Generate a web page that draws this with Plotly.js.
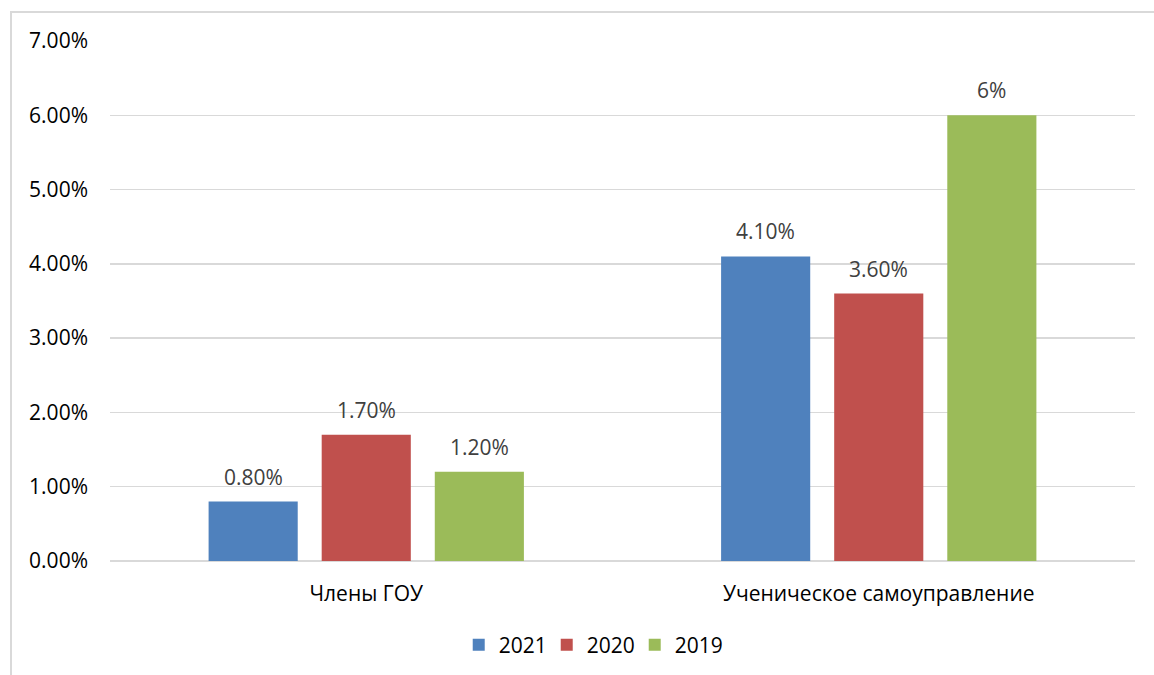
<!DOCTYPE html>
<html>
<head>
<meta charset="utf-8">
<script src="https://cdn.plot.ly/plotly-3.0.1.min.js"></script>
<style>
html,body{margin:0;padding:0;background:#fff;}
#wrap{position:relative;width:1154px;height:675px;}
#chart{width:1154px;height:675px;}
#frame{position:absolute;left:10px;top:11px;width:1150px;height:670px;border-left:2px solid #d9d9d9;border-top:2px solid #d9d9d9;pointer-events:none;}
</style>
</head>
<body>
<div id="wrap"><div id="chart"></div><div id="frame"></div></div>
<script>
const categories = ['Члены ГОУ', 'Ученическое самоуправление'];
const seriesNames = ['2021', '2020', '2019'];
const values2021 = [0.008, 0.041];
const values2020 = [0.017, 0.036];
const values2019 = [0.012, 0.06];
const labels2021 = ['0.80%', '4.10%'];
const labels2020 = ['1.70%', '3.60%'];
const labels2019 = ['1.20%', '6%'];
const colors = ['#4f81bd', '#c0504d', '#9bbb59'];

const allValues = [values2021, values2020, values2019];
const allLabels = [labels2021, labels2020, labels2019];
const FONT = 'Open Sans, Noto Sans, sans-serif';

const traces = allValues.map((vals, i) => ({
  type: 'bar',
  name: seriesNames[i],
  x: categories,
  y: vals,
  marker: {color: colors[i]},
  hoverinfo: 'none'
}));

const slotPx = 113;
const annotations = [];
allValues.forEach((vals, i) => {
  vals.forEach((v, j) => {
    annotations.push({
      x: categories[j], y: v, xref: 'x', yref: 'y',
      text: allLabels[i][j], showarrow: false,
      yanchor: 'bottom', yshift: 9, xshift: (i - 1) * slotPx,
      font: {family: FONT, size: 21, color: '#404040'}
    });
  });
});

const layout = {
  width: 1154, height: 675,
  margin: {l: 110, r: 19, t: 41, b: 114, autoexpand: false},
  paper_bgcolor: '#fff', plot_bgcolor: '#fff',
  barmode: 'group', bargap: 0.338, bargroupgap: 0.212,
  showlegend: true,
  legend: {orientation: 'h', x: 0.469, xanchor: 'center', y: -0.1615, yanchor: 'middle',
    font: {family: FONT, size: 21, color: '#000'}, itemwidth: 30, traceorder: 'normal',
    entrywidth: 43, entrywidthmode: 'pixels'},
  xaxis: {type: 'category', showgrid: false, showline: false, zeroline: false,
    ticks: '', ticklabelstandoff: 18,
    tickfont: {family: FONT, size: 21, color: '#000'}},
  yaxis: {range: [0, 0.07], dtick: 0.01, tickformat: '.2%',
    showgrid: true, gridcolor: '#d9d9d9', gridwidth: 1.5,
    zeroline: true, zerolinecolor: '#d9d9d9', zerolinewidth: 1.5,
    showline: false, ticks: '', ticklabelstandoff: 21,
    tickfont: {family: FONT, size: 21, color: '#000'}},
  annotations: annotations
};

Plotly.newPlot('chart', traces, layout, {displayModeBar: false, staticPlot: true});
</script>
</body>
</html>
